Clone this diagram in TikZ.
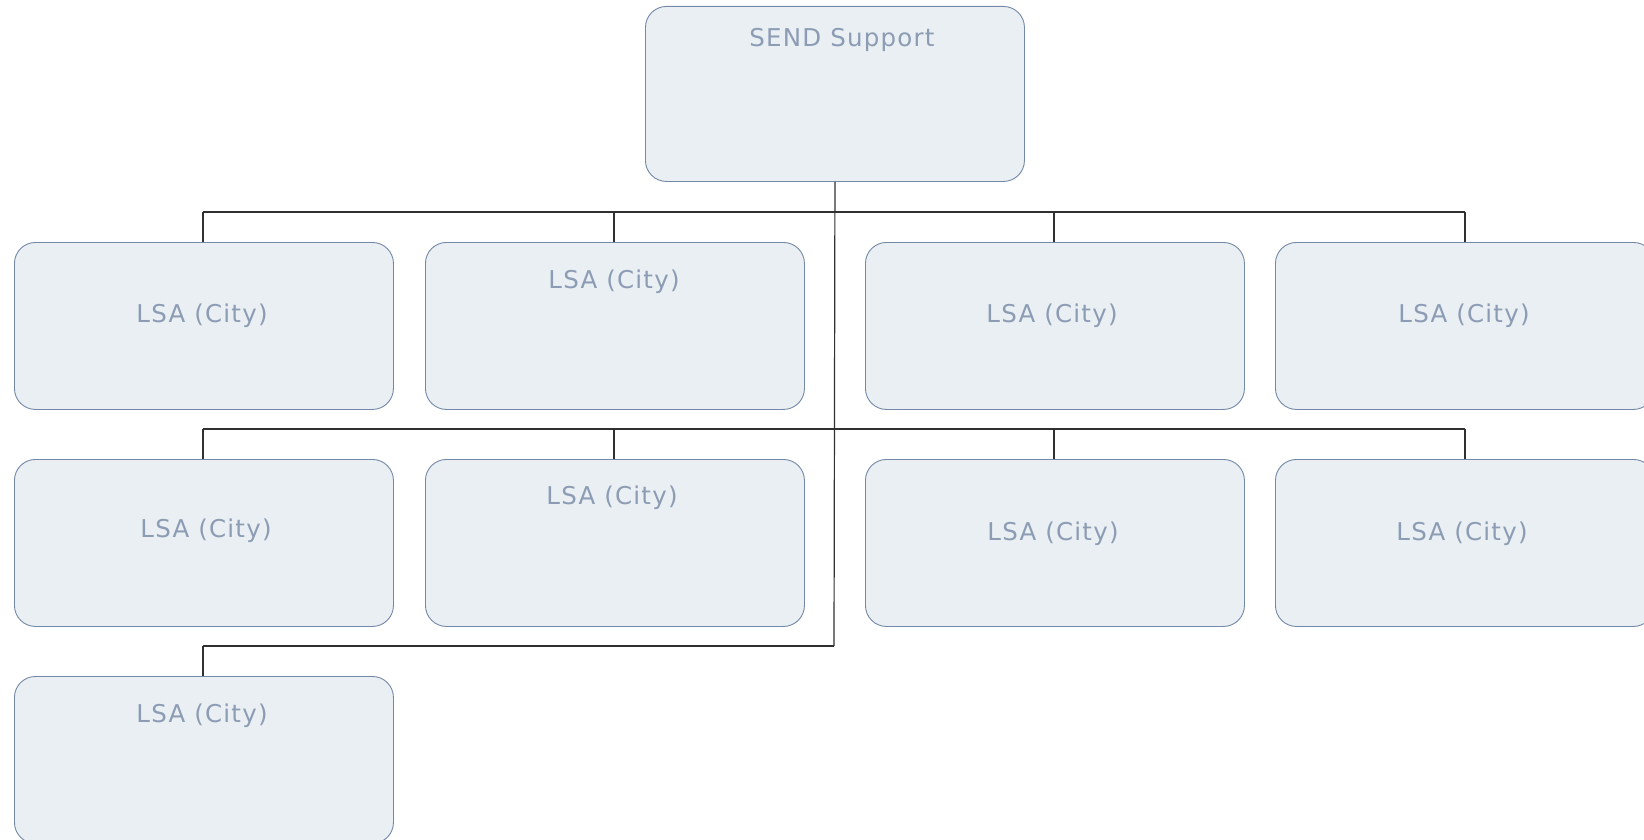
\documentclass[tikz,border=0pt]{standalone}
\usepackage{fontspec}
\setmainfont[LetterSpace=5]{DejaVu Sans}
\definecolor{boxfill}{HTML}{E9EFF2}
\definecolor{boxline}{HTML}{7488A8}
\definecolor{boxtext}{HTML}{8C9CB4}
\definecolor{conn}{HTML}{303030}
\begin{document}
\begin{tikzpicture}[x=1pt,y=-1pt,
  unit/.style={draw=boxline,fill=boxfill,rounded corners=21pt,line width=0.9pt,
    minimum width=379pt,minimum height=167pt,inner sep=0pt,anchor=north west},
  lbl/.style={text=boxtext,font=\fontsize{24.5}{28}\selectfont,inner sep=0pt},
  wire/.style={draw=conn,line width=1.2pt}]
\useasboundingbox (0,0) rectangle (1644,840);
\begin{scope}
\clip (0,0) rectangle (1644,840);
% boxes
\node[unit,minimum height=175pt] (top) at (645,6) {};
\node[unit] (a1) at (14,242) {};
\node[unit] (a2) at (425,242) {};
\node[unit] (a3) at (865,242) {};
\node[unit] (a4) at (1275,242) {};
\node[unit] (b1) at (14,459) {};
\node[unit] (b2) at (425,459) {};
\node[unit] (b3) at (865,459) {};
\node[unit] (b4) at (1275,459) {};
\node[unit] (c1) at (14,676) {};
% labels
\node[lbl] (ttop) at (842,40) {SEND Support};
\node[lbl] (ta1) at (202,316) {LSA (City)};
\node[lbl] (ta2) at (614,282) {LSA (City)};
\node[lbl] (ta3) at (1052,316) {LSA (City)};
\node[lbl] (ta4) at (1464,316) {LSA (City)};
\node[lbl] (tb1) at (206,531) {LSA (City)};
\node[lbl] (tb2) at (612,498) {LSA (City)};
\node[lbl] (tb3) at (1053,534) {LSA (City)};
\node[lbl] (tb4) at (1462,534) {LSA (City)};
\node[lbl] (tc1) at (202,716) {LSA (City)};
\end{scope}
% bus coordinates
\coordinate (busA) at (834,212);
\coordinate (busB) at (834,429);
\coordinate (busC) at (834,646);
\coordinate (pa1) at (203,242); \coordinate (pa2) at (614,242);
\coordinate (pa3) at (1054,242); \coordinate (pa4) at (1465,242);
\coordinate (pb1) at (203,459); \coordinate (pb2) at (614,459);
\coordinate (pb3) at (1054,459); \coordinate (pb4) at (1465,459);
\coordinate (pc1) at (203,676);
% connectors
\draw[wire] (top.south) -- (busC);
\draw[wire] (pa1 |- busA) -- (pa4 |- busA);
\draw[wire] (pb1 |- busB) -- (pb4 |- busB);
\draw[wire] (pc1 |- busC) -- (busC);
\foreach \p in {pa1,pa2,pa3,pa4}{\draw[wire] (\p |- busA) -- (\p);}
\foreach \p in {pb1,pb2,pb3,pb4}{\draw[wire] (\p |- busB) -- (\p);}
\draw[wire] (pc1 |- busC) -- (pc1);
\end{tikzpicture}
\end{document}
